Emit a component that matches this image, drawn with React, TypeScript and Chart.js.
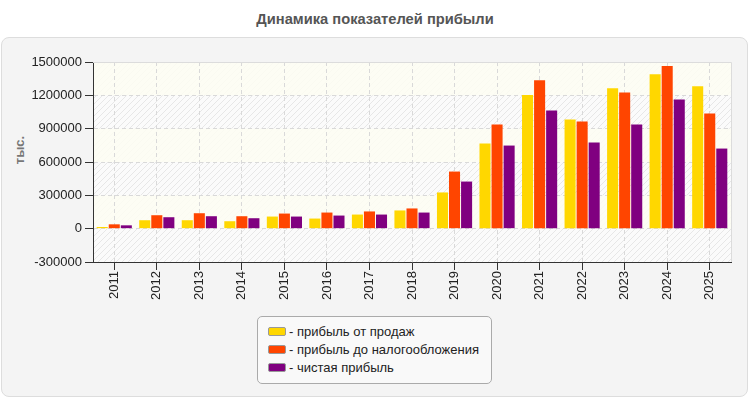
import { useEffect, useRef } from "react";
import { Chart, registerables } from "chart.js";

Chart.register(...registerables);

const FONT = "'Liberation Sans', Arial, Helvetica, sans-serif";

// Years on the category axis
const years = ["2011", "2012", "2013", "2014", "2015", "2016", "2017", "2018", "2019", "2020", "2021", "2022", "2023", "2024", "2025"];

// Profit series, thousands of roubles
const salesProfit = [15000, 76000, 76000, 67000, 109000, 91000, 127000, 164000, 326000, 767000, 1202000, 983000, 1263000, 1389000, 1281000];
const pretaxProfit = [39000, 121000, 139000, 112000, 136000, 145000, 155000, 182000, 514000, 938000, 1335000, 965000, 1226000, 1464000, 1037000];
const netProfit = [30000, 103000, 112000, 94000, 109000, 118000, 127000, 145000, 424000, 748000, 1064000, 776000, 938000, 1163000, 721000];

const seriesNames = ["- прибыль от продаж", "- прибыль до налогообложения", "- чистая прибыль"];
const seriesColors = ["#FFD700", "#FF4500", "#800080"];

// Value axis range
const yMin = -300000;
const yMax = 1500000;
const yStep = 300000;

const chartTitle = "Динамика показателей прибыли";
const yAxisTitle = "тыс.";

// Hatched plot background with lightly tinted alternate bands
const plotBackground = {
  id: "plotBackground",
  beforeDraw(chart: any) {
    const { ctx, chartArea: a, scales } = chart;
    const y = scales.y;
    ctx.save();
    const tile = document.createElement("canvas");
    tile.width = 6;
    tile.height = 6;
    const t = tile.getContext("2d")!;
    t.fillStyle = "#fbfbfb";
    t.fillRect(0, 0, 6, 6);
    t.strokeStyle = "#e7e7e7";
    t.lineWidth = 1;
    t.beginPath();
    t.moveTo(0, 6);
    t.lineTo(6, 0);
    t.moveTo(-1, 1);
    t.lineTo(1, -1);
    t.moveTo(5, 7);
    t.lineTo(7, 5);
    t.stroke();
    const pattern = ctx.createPattern(tile, "repeat");
    ctx.fillStyle = pattern;
    ctx.fillRect(a.left, a.top, a.right - a.left, a.bottom - a.top);
    ctx.fillStyle = "rgba(253,253,243,0.88)";
    for (let v = 0; v < yMax; v += 2 * yStep) {
      const top = y.getPixelForValue(v + yStep);
      const bot = y.getPixelForValue(v);
      ctx.fillRect(a.left, top, a.right - a.left, bot - top);
    }
    ctx.restore();
  },
  afterDraw(chart: any) {
    const { ctx, chartArea: a } = chart;
    ctx.save();
    ctx.strokeStyle = "#dcdcdc";
    ctx.lineWidth = 1;
    ctx.beginPath();
    ctx.moveTo(a.left, a.top + 0.5);
    ctx.lineTo(a.right + 0.5, a.top + 0.5);
    ctx.lineTo(a.right + 0.5, a.bottom);
    ctx.stroke();
    ctx.restore();
  },
};

export default function App() {
  const canvasRef = useRef<HTMLCanvasElement>(null);

  useEffect(() => {
    const canvas = canvasRef.current;
    if (!canvas) return;
    const series = [salesProfit, pretaxProfit, netProfit];
    const chart = new Chart(canvas, {
      type: "bar",
      data: {
        labels: years,
        datasets: series.map((values, i) => ({
          label: seriesNames[i],
          data: values,
          backgroundColor: seriesColors[i],
          borderWidth: 0,
          categoryPercentage: 0.85,
          barPercentage: 0.917,
        })),
      },
      options: {
        responsive: false,
        animation: false,
        layout: { padding: { top: 62, right: 19, bottom: 78, left: 0 } },
        plugins: {
          legend: { display: false },
          title: { display: false },
          tooltip: { enabled: false },
        },
        scales: {
          x: {
            afterFit: (scale: any) => {
              scale.height = 60;
            },
            grid: {
              display: true,
              offset: false,
              color: "#d9d9d9",
              tickColor: "#333333",
              tickLength: 8,
              tickBorderDash: [],
            },
            border: { display: true, color: "#333333", width: 1, dash: [4, 3] },
            ticks: {
              autoSkip: false,
              minRotation: 90,
              maxRotation: 90,
              padding: 1,
              color: "#222222",
              font: { family: FONT, size: 13 },
            },
          },
          y: {
            min: yMin,
            max: yMax,
            afterFit: (scale: any) => {
              scale.width = 93;
            },
            grid: {
              color: "#d9d9d9",
              tickColor: "#333333",
              tickLength: 8,
              tickBorderDash: [],
            },
            border: { display: true, color: "#333333", width: 1, dash: [4, 3] },
            ticks: {
              stepSize: yStep,
              padding: 3,
              color: "#222222",
              font: { family: FONT, size: 13 },
              callback: (v: any) => String(v),
            },
          },
        },
      },
      plugins: [plotBackground],
    });
    return () => chart.destroy();
  }, []);

  return (
    <div style={{ position: "absolute", left: 0, top: 0, width: 750, height: 400, background: "#ffffff", fontFamily: FONT, overflow: "hidden" }}>
      <div
        style={{
          position: "absolute",
          left: 1,
          top: 37,
          width: 747,
          height: 360,
          boxSizing: "border-box",
          background: "#f4f4f4",
          border: "1px solid #dddddd",
          borderRadius: 8,
        }}
      />
      <div
        style={{
          position: "absolute",
          left: 0,
          top: 11,
          width: 750,
          textAlign: "center",
          fontWeight: "bold",
          fontSize: 14.7,
          lineHeight: "17px",
          color: "#555555",
        }}
      >
        {chartTitle}
      </div>
      <div
        style={{
          position: "absolute",
          left: 19,
          top: 150,
          transform: "translate(-50%, -50%) rotate(-90deg)",
          fontWeight: "bold",
          fontSize: 13,
          color: "#777777",
          whiteSpace: "nowrap",
        }}
      >
        {yAxisTitle}
      </div>
      <canvas ref={canvasRef} width={750} height={400} style={{ position: "absolute", left: 0, top: 0 }} />
      <div
        style={{
          position: "absolute",
          left: 257,
          top: 316,
          width: 235,
          height: 68,
          boxSizing: "border-box",
          background: "#f9f9f9",
          border: "1px solid #aaaaaa",
          borderRadius: 5,
          paddingTop: 5,
          paddingLeft: 10,
        }}
      >
        {seriesNames.map((name, i) => (
          <div key={name} style={{ display: "flex", alignItems: "center", height: 18 }}>
            <span
              style={{
                display: "inline-block",
                width: 18,
                height: 9,
                boxSizing: "border-box",
                background: seriesColors[i],
                border: "1px solid #999999",
                borderRadius: 2,
              }}
            />
            <span style={{ marginLeft: 3, fontSize: 13, color: "#222222", whiteSpace: "nowrap" }}>{name}</span>
          </div>
        ))}
      </div>
    </div>
  );
}
